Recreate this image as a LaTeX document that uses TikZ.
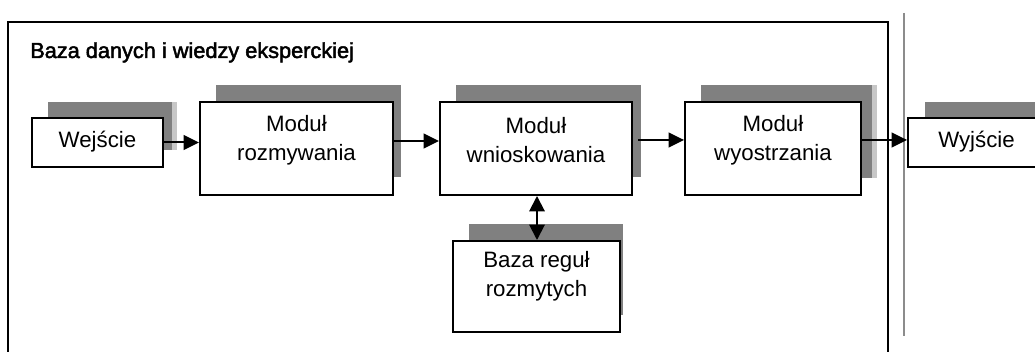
\documentclass[tikz,border=0pt]{standalone}
\usepackage{fontspec}
\setmainfont{Liberation Sans}
\newfontfamily\titlefont[FakeBold=2.2]{Liberation Sans}
\usetikzlibrary{arrows.meta}
\tikzset{
  box/.style={draw=black, line width=1.5pt, fill=white, inner sep=0pt},
  shade/.style={fill=black!50, draw=none},
  stripe/.style={fill=black!22, draw=none},
  txt/.style={align=center, inner sep=0pt, font=\fontsize{16.7}{21.75}\selectfont},
  arr/.style={line width=1.5pt, -{Triangle[length=11.5pt,width=11pt]}},
  darr/.style={line width=1.5pt, {Triangle[length=11.5pt,width=11.5pt]}-{Triangle[length=11.5pt,width=11.5pt]}},
}
\begin{document}
\begin{tikzpicture}[x=0.75pt,y=-0.75pt]
\useasboundingbox (0,0) rectangle (1035,352);
\clip (0,0) rectangle (1035,352);
\fill[white] (0,0) rectangle (1035,352);
% outer frame and separator
\draw[line width=1.6pt] (8,360) -- (8,22) -- (888,22) -- (888,360);
\draw[black!45, line width=1.5pt] (904,13) -- (904,336);
\node[anchor=base west, inner sep=0pt, font=\titlefont\fontsize{16.3}{20}\selectfont] (title) at (30,58) {Baza danych i wiedzy eksperckiej};
% shadows
\fill[stripe] (168,102) rectangle (177,150);
\fill[shade] (48,102) rectangle (172,150);
\fill[shade] (216,85) rectangle (401,177);
\fill[shade] (456,85) rectangle (641,177);
\fill[stripe] (868,85) rectangle (877,178);
\fill[shade] (701,85) rectangle (872,178);
\fill[shade] (925,102) rectangle (1045,130);
\fill[shade] (469,224) rectangle (623,315);
% boxes
\node[box, minimum width=98.25pt, minimum height=36.75pt] (we) at (97.5,142.5) {};
\node[box, minimum width=144.75pt, minimum height=69.75pt] (roz) at (296.5,148.5) {};
\node[box, minimum width=144pt, minimum height=69.75pt] (wn) at (536,148.5) {};
\node[box, minimum width=132pt, minimum height=69.75pt] (wy) at (773,148.5) {};
\node[box, minimum width=102.75pt, minimum height=36.75pt] (out) at (976.5,142.5) {};
\node[box, minimum width=125.25pt, minimum height=68.25pt] (baza) at (536.5,286.5) {};
% texts
\node[txt] (tw) at ([yshift=1pt]we.center) {Wejście};
\node[txt] (tr) at ([yshift=6pt]roz.center) {Moduł\\rozmywania};
\node[txt] (tn) at ([yshift=6.5pt]wn.center) {Moduł\\wnioskowania};
\node[txt] (ty) at ([yshift=6pt]wy.center) {Moduł\\wyostrzania};
\node[txt] (to) at ([yshift=1pt]out.center) {Wyjście};
\node[txt] (tb) at ([yshift=7.5pt]baza.center) {Baza reguł\\rozmytych};
% connectors
\draw[arr] (we.east) -- (we.east -| roz.west);
\draw[arr] ([yshift=5.6pt]roz.east) -- ([yshift=5.6pt]wn.west);
\draw[arr] ([xshift=3.75pt,yshift=6.4pt]wn.east) -- ([yshift=6.4pt]wy.west);
\draw[arr] ([yshift=6.4pt]wy.east) -- ([yshift=6.4pt]wy.east -| out.west);
\draw[darr] ([xshift=0.75pt]wn.south) -- ([xshift=0.75pt]wn.south |- baza.north);
\end{tikzpicture}
\end{document}
